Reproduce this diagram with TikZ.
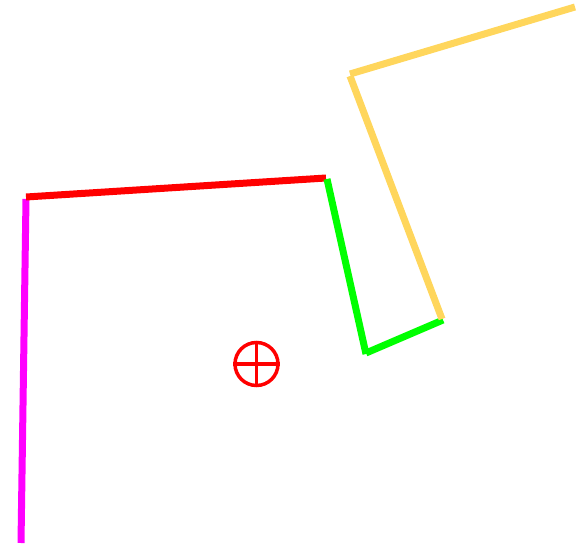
\documentclass[tikz,border=0pt]{standalone}
\begin{document}
\begin{tikzpicture}[x=1pt,y=-1pt,
  seg/.style={line width=7pt,line cap=butt}]
\definecolor{ylw}{RGB}{255,214,92}
\definecolor{mag}{RGB}{255,0,255}
\definecolor{grn}{RGB}{0,255,0}
\definecolor{rd}{RGB}{255,0,0}
\useasboundingbox (0,0) rectangle (582,546);
\coordinate (m1) at (21,543);
\coordinate (m2) at (26,199);
\coordinate (r1) at (26,197);
\coordinate (r2) at (326,178);
\coordinate (g1) at (327,179);
\coordinate (g2) at (366,354);
\coordinate (g3) at (366,353);
\coordinate (g4) at (443,320);
\coordinate (y1) at (442,319);
\coordinate (y2) at (350,76);
\coordinate (y3) at (350,74);
\coordinate (y4) at (575,7);
\draw[seg,mag] (m1) -- (m2);
\draw[seg,rd] (r1) -- (r2);
\draw[seg,grn] (g1) -- (g2);
\draw[seg,grn] (g3) -- (g4);
\draw[seg,ylw] (y1) -- (y2);
\draw[seg,ylw] (y3) -- (y4);
\node[circle,draw=rd,line width=3.5pt,minimum size=43pt,inner sep=0pt] (c) at (256.5,364) {};
\draw[rd,line width=3.5pt] (c.north) -- (c.south) (c.west) -- (c.east);
\end{tikzpicture}
\end{document}
